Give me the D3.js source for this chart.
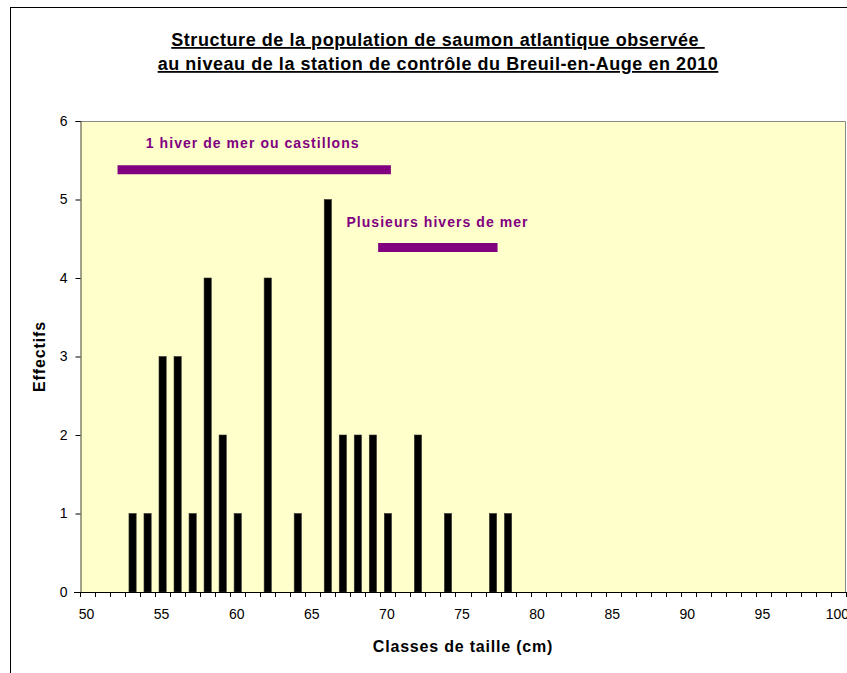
<!DOCTYPE html>
<html>
<head>
<meta charset="utf-8">
<script src="https://cdn.jsdelivr.net/npm/d3@7"></script>
<style>
  html, body { margin: 0; padding: 0; background: #fff; }
  svg { display: block; font-family: "Liberation Sans", Arial, sans-serif; }
</style>
</head>
<body>
<svg id="chart" width="847" height="673"></svg>
<script>
// Size classes (cm) and observed counts
const classes = d3.range(50, 101);
const measuredClasses = [53, 54, 55, 56, 57, 58, 59, 60, 62, 64, 66, 67, 68, 69, 70, 72, 74, 77, 78];
const counts          = [ 1,  1,  3,  3,  1,  4,  2,  1,  4,  1,  5,  2,  2,  2,  1,  2,  1,  1,  1];
const yTicks = [0, 1, 2, 3, 4, 5, 6];
const xTickLabels = [50, 55, 60, 65, 70, 75, 80, 85, 90, 95, 100];

// Age-group ranges (start/end class, height on the count axis)
const groupNames  = ["1 hiver de mer ou castillons", "Plusieurs hivers de mer"];
const groupStart  = [52.0, 69.35];
const groupEnd    = [70.2, 77.3];
const groupLevel  = [5.38, 4.39];
const groupLabelX = [61.0, 73.3];
const groupLabelLevel = [5.65, 4.65];

const titleLines = [
  "Structure de la population de saumon atlantique observée ",
  "au niveau de la station de contrôle du Breuil-en-Auge en 2010"
];

const svg = d3.select("#chart");
const W = 847, H = 673;
const plot = { left: 80, top: 121, right: 846, bottom: 592 };

// Outer chart frame (extends past the visible window on right/bottom)
svg.append("rect")
  .attr("x", 10.5).attr("y", 7.5)
  .attr("width", W + 20).attr("height", H + 20)
  .attr("fill", "#fff").attr("stroke", "#000").attr("stroke-width", 1);

const x = d3.scaleBand()
  .domain(classes)
  .range([plot.left, plot.right])
  .paddingInner(0.52).paddingOuter(0.26);

const xPos = d3.scaleLinear()
  .domain([classes[0], classes[classes.length - 1]])
  .range([x(classes[0]) + x.bandwidth() / 2, x(classes[classes.length - 1]) + x.bandwidth() / 2]);

const y = d3.scaleLinear().domain([0, 6]).range([plot.bottom, plot.top]);

// Plot background
svg.append("rect")
  .attr("x", plot.left).attr("y", plot.top)
  .attr("width", plot.right - plot.left).attr("height", plot.bottom - plot.top)
  .attr("fill", "#FFFFCC");

// Plot border (top and right)
svg.append("path")
  .attr("d", `M${plot.left},${plot.top + 0.5}H${plot.right - 0.5}V${plot.bottom}`)
  .attr("fill", "none").attr("stroke", "#888").attr("stroke-width", 1);

// Bars
const data = measuredClasses.map((c, i) => ({ c, v: counts[i] }));
svg.append("g").selectAll("rect")
  .data(data).join("rect")
  .attr("x", d => x(d.c))
  .attr("y", d => y(d.v))
  .attr("width", x.bandwidth())
  .attr("height", d => y(0) - y(d.v))
  .attr("fill", "#000")
  .attr("stroke", "#333").attr("stroke-width", 0.6);

// Y axis
const yAxis = d3.axisLeft(y).tickValues(yTicks).tickSize(5).tickPadding(8).tickFormat(d3.format("d"));
const gy = svg.append("g").attr("transform", `translate(${plot.left + 0.5},0)`).call(yAxis);
gy.select(".domain").attr("stroke", "#444");
gy.selectAll(".tick line").attr("stroke", "#000");
gy.selectAll("text").attr("font-size", 14).attr("fill", "#000")
  .attr("font-family", "'Liberation Sans', Arial, sans-serif");

// X axis: ticks on class boundaries, labels every 5 cm
const step = (plot.right - plot.left) / classes.length;
const boundaries = d3.range(classes.length + 1).map(i => plot.left + i * step);
const gx = svg.append("g");
gx.append("line")
  .attr("x1", plot.left - 6).attr("x2", plot.right)
  .attr("y1", plot.bottom + 0.5).attr("y2", plot.bottom + 0.5)
  .attr("stroke", "#000");
gx.selectAll("line.tk").data(boundaries).join("line")
  .attr("class", "tk")
  .attr("x1", d => Math.round(d) + 0.5).attr("x2", d => Math.round(d) + 0.5)
  .attr("y1", plot.bottom).attr("y2", plot.bottom + 5)
  .attr("stroke", "#000");
gx.selectAll("text").data(xTickLabels).join("text")
  .attr("x", d => x(d) + x.bandwidth() / 2 - 1)
  .attr("y", plot.bottom + 27)
  .attr("text-anchor", "middle")
  .attr("font-size", 14)
  .text(d => d);

// Age-group ranges
const groups = svg.append("g");
groupNames.forEach((name, i) => {
  groups.append("line")
    .attr("x1", xPos(groupStart[i])).attr("x2", xPos(groupEnd[i]))
    .attr("y1", y(groupLevel[i])).attr("y2", y(groupLevel[i]))
    .attr("stroke", "#800080").attr("stroke-width", 9);
  groups.append("text")
    .attr("x", xPos(groupLabelX[i]))
    .attr("y", y(groupLabelLevel[i]))
    .attr("text-anchor", "middle")
    .attr("font-size", 14).attr("font-weight", "bold")
    .attr("letter-spacing", 1.05)
    .attr("fill", "#800080")
    .text(name);
});

// Title
svg.append("g").selectAll("text")
  .data(titleLines).join("text")
  .attr("x", 438)
  .attr("y", (d, i) => 46 + i * 24)
  .attr("text-anchor", "middle")
  .attr("font-size", 18).attr("font-weight", "bold")
  .attr("letter-spacing", 0.55)
  .style("text-decoration", "underline")
  .attr("xml:space", "preserve")
  .style("white-space", "pre")
  .text(d => d);

// Axis titles
svg.append("text")
  .attr("x", 463).attr("y", 652)
  .attr("text-anchor", "middle")
  .attr("font-size", 16).attr("font-weight", "bold")
  .attr("letter-spacing", 0.8)
  .text("Classes de taille (cm)");

svg.append("text")
  .attr("transform", `translate(45,${(plot.top + plot.bottom) / 2}) rotate(-90)`)
  .attr("text-anchor", "middle")
  .attr("font-size", 16).attr("font-weight", "bold")
  .attr("letter-spacing", 0.9)
  .text("Effectifs");
</script>
</body>
</html>
